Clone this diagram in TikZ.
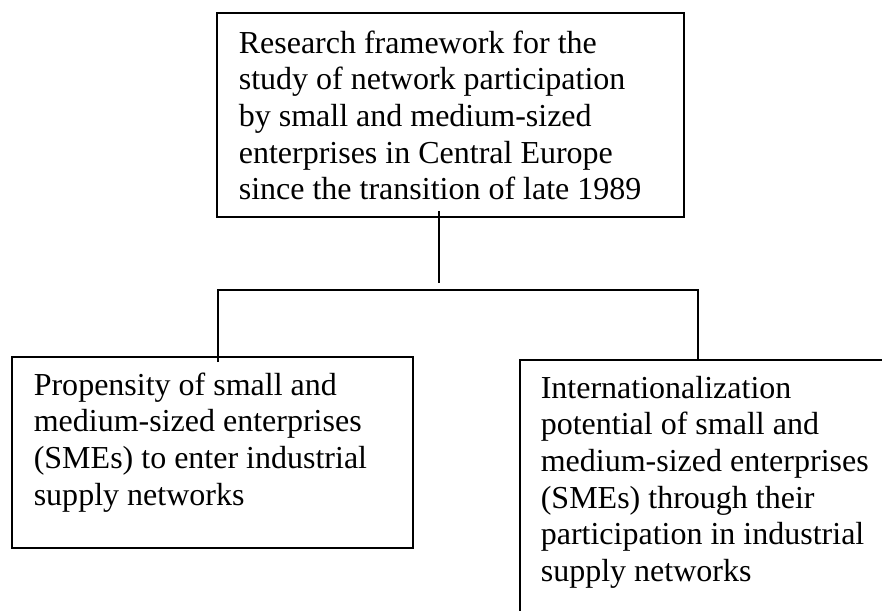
\documentclass[tikz,border=0pt]{standalone}
\usepackage{fontspec}
\setmainfont{Liberation Serif}
\begin{document}
\begin{tikzpicture}[x=0.375pt,y=-0.375pt,line width=0.6pt,
  box/.style={draw,rectangle,inner sep=0pt,outer sep=0pt,anchor=north west},
  txt/.style={anchor=base west,inner sep=0pt,font=\fontsize{12pt}{13.76pt}\selectfont}]
\useasboundingbox (0,0) rectangle (882,610);
% boxes
\node[box,minimum width=175.1pt,minimum height=76.5pt] (top) at (217,13) {};
\node[box,minimum width=150.4pt,minimum height=71.6pt] (left) at (12,357) {};
\node[box,minimum width=142pt,minimum height=110pt] (right) at (520,360) {};
% texts
\node[txt] (toptext) at (238,53) {\begin{tabular}[t]{@{}l@{}}Research framework for the\\study of network participation\\by small and medium-sized\\enterprises in Central Europe\\since the transition of late 1989\end{tabular}};
\node[txt] (lefttext) at (33,395) {\begin{tabular}[t]{@{}l@{}}Propensity of small and\\medium-sized enterprises\\(SMEs) to enter industrial\\supply networks\end{tabular}};
\node[txt] (righttext) at (540,398) {\begin{tabular}[t]{@{}l@{}}Internationalization\\potential of small and\\medium-sized enterprises\\(SMEs) through their\\participation in industrial\\supply networks\end{tabular}};
% connector coordinates
\coordinate (stemtop) at (439,211);
\coordinate (stembot) at (439,283);
\coordinate (barL) at (218,290);
\coordinate (barR) at (698,290);
\coordinate (leftin) at (218,362);
\draw (stemtop) -- (stembot);
\draw (leftin) -- (barL) -- (barR) -- (barR |- right.north);
\end{tikzpicture}
\end{document}
